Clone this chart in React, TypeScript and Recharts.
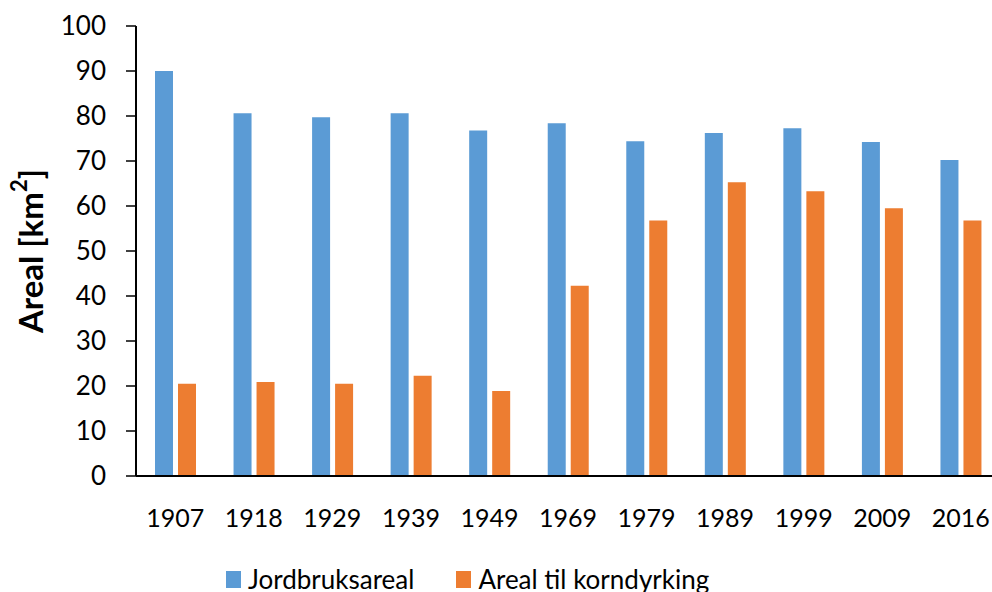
import { BarChart, Bar, XAxis, YAxis } from 'recharts';

const FONT = "Lato, 'Open Sans', sans-serif";

const YEARS = ['1907', '1918', '1929', '1939', '1949', '1969', '1979', '1989', '1999', '2009', '2016'];
const JORDBRUK = [90, 80.6, 79.7, 80.6, 76.8, 78.4, 74.4, 76.2, 77.3, 74.2, 70.2];
const KORN = [20.5, 20.9, 20.5, 22.3, 18.9, 42.3, 56.8, 65.3, 63.3, 59.5, 56.8];
const Y_TICKS = [0, 10, 20, 30, 40, 50, 60, 70, 80, 90, 100];

const SERIES = [
  { key: 'jordbruk', name: 'Jordbruksareal', color: '#5B9BD5' },
  { key: 'korn', name: 'Areal til korndyrking', color: '#ED7D31' },
];

const data = YEARS.map((year, i) => ({ year, jordbruk: JORDBRUK[i], korn: KORN[i] }));

const YLabel = (props: any) => {
  const { viewBox } = props;
  const x = viewBox.x + 30;
  const y = viewBox.y + viewBox.height / 2;
  return (
    <text
      x={x}
      y={y}
      transform={`rotate(-90, ${x}, ${y})`}
      textAnchor="middle"
      dominantBaseline="central"
      fontFamily={FONT}
      fontWeight="bold"
      fontSize={33}
      fill="#000"
    >
      Areal [km<tspan dy={-12} fontSize={22}>2</tspan><tspan dy={12}>]</tspan>
    </text>
  );
};

const App = () => (
  <div style={{ position: 'fixed', left: 0, top: 0, width: 992, height: 592, overflow: 'hidden', background: '#fff' }}>
    <BarChart
      width={1000}
      height={592}
      data={data}
      margin={{ top: 26, right: 0, bottom: 0, left: 0 }}
      barSize={18}
      barGap={5}
    >
      <XAxis
        dataKey="year"
        height={116}
        axisLine={{ stroke: '#000', strokeWidth: 2 }}
        tickLine={false}
        tickSize={6}
        tickMargin={27}
        tick={{ fill: '#000', fontSize: 25, fontFamily: FONT }}
        interval={0}
      />
      <YAxis
        domain={[0, 100]}
        ticks={Y_TICKS}
        width={136}
        axisLine={{ stroke: '#000', strokeWidth: 2 }}
        tickLine={{ stroke: '#000', strokeWidth: 1.5 }}
        tickSize={10}
        tickMargin={20}
        tick={{ fill: '#000', fontSize: 26, fontFamily: FONT }}
        label={<YLabel />}
      />
      {SERIES.map(s => (
        <Bar key={s.key} dataKey={s.key} name={s.name} fill={s.color} isAnimationActive={false} />
      ))}
    </BarChart>
    <div
      style={{
        position: 'absolute',
        left: 226,
        top: 563,
        display: 'flex',
        alignItems: 'center',
        fontFamily: FONT,
        fontSize: 26,
        color: '#000',
        whiteSpace: 'nowrap',
      }}
    >
      {SERIES.map((s, i) => (
        <div key={s.key} style={{ display: 'flex', alignItems: 'center', marginRight: i === 0 ? 42 : 0 }}>
          <span style={{ display: 'inline-block', width: 15, height: 17, background: s.color, marginRight: 7 }} />
          <span>{s.name}</span>
        </div>
      ))}
    </div>
  </div>
);

export default App;
